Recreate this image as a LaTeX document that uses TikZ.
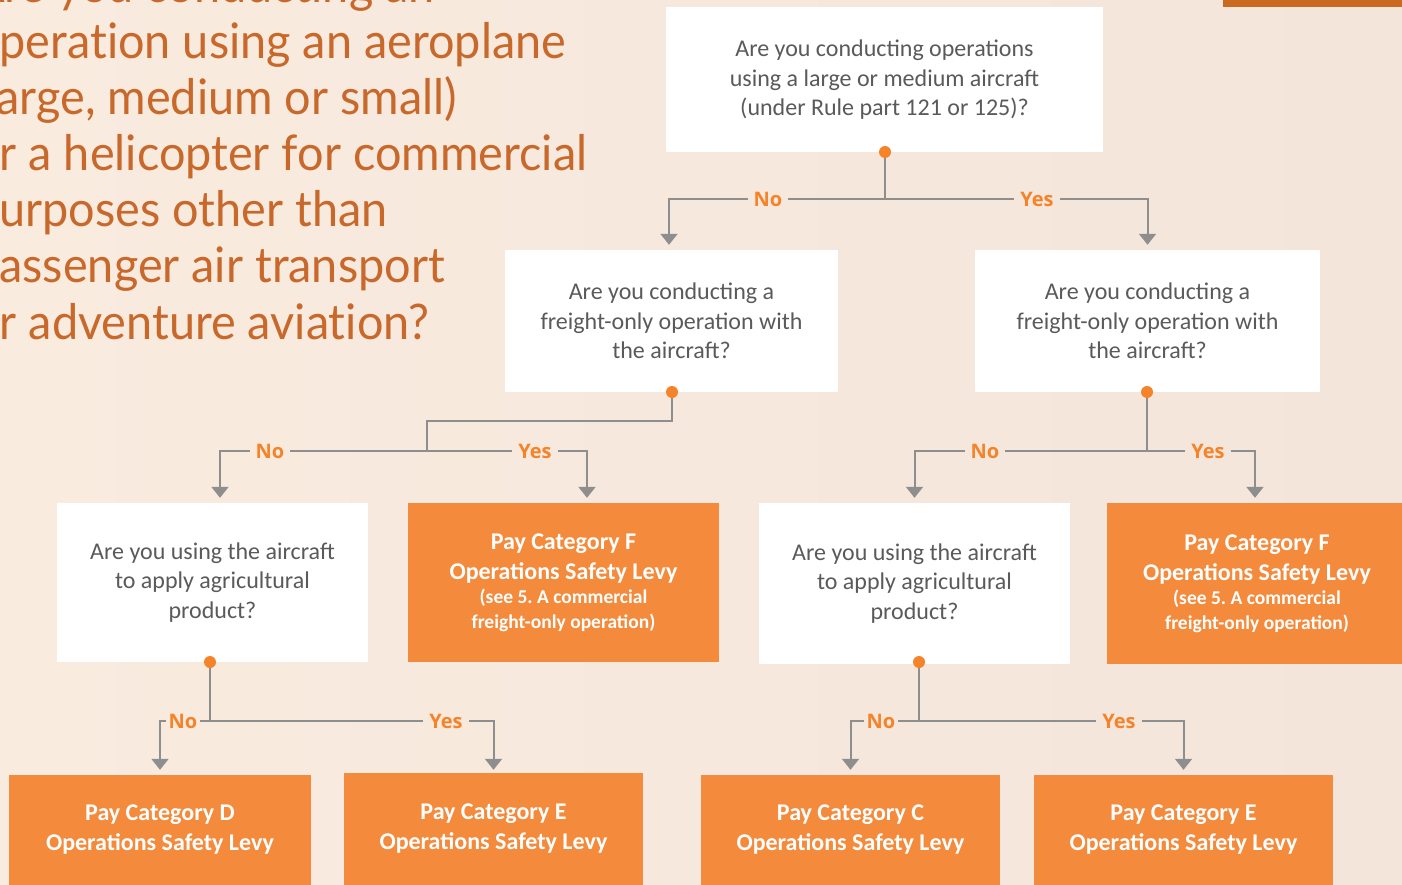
\documentclass[tikz,border=0pt]{standalone}
\usepackage{fontspec}
\setmainfont{Carlito}
\newfontfamily\titlefont{Lato}[Ligatures=NoCommon]
\newfontfamily\lblfont{Open Sans}
\usetikzlibrary{arrows.meta,positioning}
\definecolor{bgA}{HTML}{FAEBDF}
\definecolor{bgB}{HTML}{F3E5DA}
\definecolor{titlec}{HTML}{C8682A}
\definecolor{boxor}{HTML}{F48A3B}
\definecolor{qtext}{HTML}{5A5A5A}
\definecolor{lblc}{HTML}{F5832A}
\definecolor{linec}{HTML}{8E8E8E}
\definecolor{barc}{HTML}{C96A20}
\tikzset{
  qbox/.style={fill=white, draw=none, align=center, text=qtext, font=\fontsize{24}{29.5}\selectfont, inner sep=0pt},
  obox/.style={fill=boxor, draw=none, align=center, text=white, font=\bfseries\fontsize{24}{30}\selectfont, inner sep=0pt},
  lbl/.style={text=lblc, font=\lblfont\bfseries\fontsize{20}{22}\selectfont, inner sep=0pt, outer sep=0pt, minimum width=40pt, minimum height=14pt},
  ln/.style={draw=linec, line width=2pt},
  arr/.style={ln, -{Triangle[width=17pt,length=11pt]}, shorten >=5pt},
  dot/.style={circle, fill=lblc, inner sep=0pt, minimum size=12pt},
  ttl/.style={anchor=base west, text=titlec, font=\titlefont\fontsize{49}{56}\selectfont, inner sep=0pt}
}
\newcommand{\tl}[1]{\scalebox{0.955}[1]{#1}}
\newcommand{\smallline}[1]{{\fontsize{19.5}{24}\selectfont #1}}
\begin{document}
\begin{tikzpicture}[x=1pt,y=-1pt]
\useasboundingbox (0,0) rectangle (1402,885);
\clip (0,0) rectangle (1402,885);
\shade[left color=bgA, right color=bgB] (0,0) rectangle (1402,885);
\fill[barc] (1223,0) rectangle (1402,7);
% title
\node[ttl] (t0) at (-27,3) {\tl{Are you conducting an}};
\node[ttl] (t1) at (-27,59) {\tl{operation using an aeroplane}};
\node[ttl] (t2) at (-27,115) {\tl{(large, medium or small)}};
\node[ttl] (t3) at (-27,171) {\tl{or a helicopter for commercial}};
\node[ttl] (t4) at (-27,227) {\tl{purposes other than}};
\node[ttl] (t5) at (-27,283) {\tl{passenger air transport}};
\node[ttl] (t6) at (-27,339) {\tl{or adventure aviation?}};
% boxes
\node[qbox, minimum width=437pt, minimum height=145pt] (Q0) at (884.5,80) {Are you conducting operations\\using a large or medium aircraft\\(under Rule part 121 or 125)?};
\node[qbox, minimum width=333pt, minimum height=142pt] (QL) at (671.5,321) {Are you conducting a\\freight-only operation with\\the aircraft?};
\node[qbox, minimum width=345pt, minimum height=142pt] (QR) at (1147.5,321) {Are you conducting a\\freight-only operation with\\the aircraft?};
\node[qbox, minimum width=311pt, minimum height=159pt] (QLL) at (212.5,582.5) {Are you using the aircraft\\to apply agricultural\\product?};
\node[obox, minimum width=311pt, minimum height=159pt] (FL) at (563.5,582.5) {Pay Category F\\Operations Safety Levy\\[-6pt]\smallline{(see 5.\ A commercial}\\[-5pt]\smallline{freight-only operation)}};
\node[qbox, minimum width=311pt, minimum height=161pt] (QRL) at (914.5,583.5) {Are you using the aircraft\\to apply agricultural\\product?};
\node[obox, minimum width=300pt, minimum height=161pt] (FR) at (1257,583.5) {Pay Category F\\Operations Safety Levy\\[-6pt]\smallline{(see 5.\ A commercial}\\[-5pt]\smallline{freight-only operation)}};
\node[obox, minimum width=302pt, minimum height=110pt] (PD) at (160,830) {Pay Category D\\Operations Safety Levy};
\node[obox, minimum width=299pt, minimum height=112pt] (PE1) at (493.5,829) {Pay Category E\\Operations Safety Levy};
\node[obox, minimum width=299pt, minimum height=110pt] (PC) at (850.5,830) {Pay Category C\\Operations Safety Levy};
\node[obox, minimum width=299pt, minimum height=110pt] (PE2) at (1183.5,830) {Pay Category E\\Operations Safety Levy};
% dots
\node[dot] (d0) at (885,152) {};
\node[dot] (d1) at (672,392) {};
\node[dot] (d2) at (1147,392) {};
\node[dot] (d3) at (210,662) {};
\node[dot] (d4) at (919,662) {};
% labels
\node[lbl] (n0) at (768,199) {No};
\node[lbl, minimum width=46pt] (y0) at (1037,199) {Yes};
\node[lbl] (n1) at (270,451) {No};
\node[lbl, minimum width=46pt] (y1) at (535,451) {Yes};
\node[lbl] (n2) at (985,451) {No};
\node[lbl, minimum width=46pt] (y2) at (1208,451) {Yes};
\node[lbl, minimum width=34pt] (n3) at (183,721) {No};
\node[lbl, minimum width=46pt] (y3) at (446,721) {Yes};
\node[lbl, minimum width=34pt] (n4) at (881,721) {No};
\node[lbl, minimum width=46pt] (y4) at (1119,721) {Yes};
\coordinate (j1) at (427,451);
% connectors level 0
\draw[ln] (d0) |- (n0);
\draw[ln] (d0) |- (y0);
\draw[arr] (n0) -| ([xshift=-2.5pt]QL.north);
\draw[arr] (y0) -| (QR.north);
% level 1 left
\draw[ln] (d1) -- (672,421) -| (j1);
\draw[ln] (j1) -- (n1);
\draw[ln] (j1) -- (y1);
\draw[arr] (n1) -| ([xshift=7.5pt]QLL.north);
\draw[arr] (y1) -| ([xshift=23.5pt]FL.north);
% level 1 right
\draw[ln] (d2) |- (n2);
\draw[ln] (d2) |- (y2);
\draw[arr] (n2) -| (QRL.north);
\draw[arr] (y2) -| ([xshift=-2pt]FR.north);
% level 2 left
\draw[ln] (d3) |- (n3);
\draw[ln] (d3) |- (y3);
\draw[arr] (n3) -| (PD.north);
\draw[arr] (y3) -| ([yshift=-2pt]PE1.north);
% level 2 right
\draw[ln] (d4) |- (n4);
\draw[ln] (d4) |- (y4);
\draw[arr] (n4) -| (PC.north);
\draw[arr] (y4) -| (PE2.north);
\end{tikzpicture}
\end{document}
